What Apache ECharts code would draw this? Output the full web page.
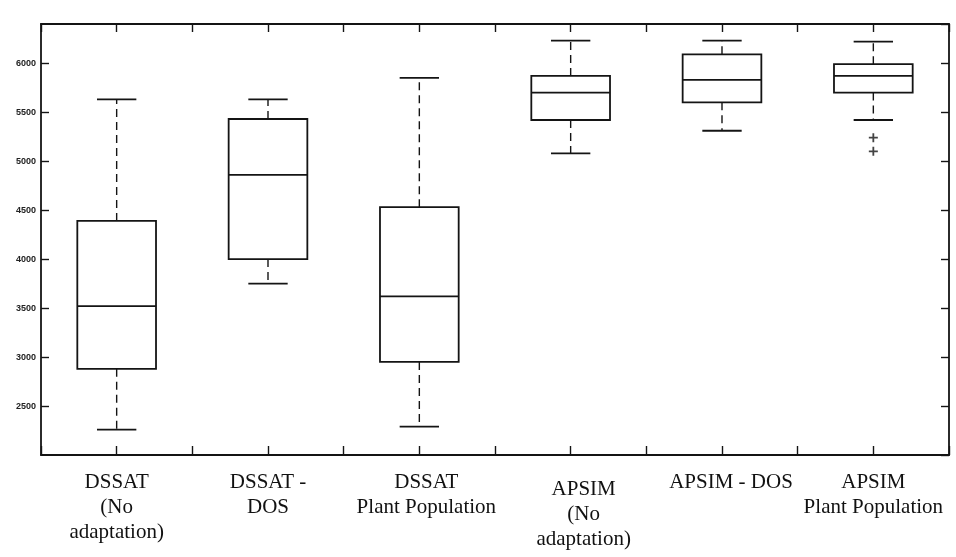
<!DOCTYPE html>
<html><head><meta charset="utf-8">
<script src="https://cdn.jsdelivr.net/npm/echarts@6/dist/echarts.min.js"></script>
<style>html,body{margin:0;padding:0;background:#fff}#c{width:956px;height:557px}</style>
</head><body><div id="c"></div>
<script>
// ---- data ----
const categories = ['DSSAT\n(No\nadaptation)', 'DSSAT -\nDOS', 'DSSAT\nPlant Population', 'APSIM\n(No\nadaptation)', 'APSIM - DOS', 'APSIM\nPlant Population'];
const whiskerLow  = [2260, 3750, 2290, 5080, 5310, 5420];
const quartile1   = [2880, 4000, 2950, 5420, 5600, 5700];
const medians     = [3520, 4860, 3620, 5700, 5830, 5870];
const quartile3   = [4390, 5430, 4530, 5870, 6090, 5990];
const whiskerHigh = [5630, 5630, 5850, 6230, 6230, 6220];
const outlierCategory = [5, 5];
const outlierValues   = [5240, 5100];
const yTickLabels = [2500, 3000, 3500, 4000, 4500, 5000, 5500, 6000];

// ---- chart ----
const chart = echarts.init(document.getElementById('c'), null, {renderer: 'canvas'});
const boxData = categories.map((c, i) => [i, whiskerLow[i], quartile1[i], medians[i], quartile3[i], whiskerHigh[i]]);
const outlierData = outlierCategory.map((c, i) => [c, outlierValues[i]]);
const labelShift = [[0,0,0,0],[0,0,0,0],[0,0,0,14],[7,0,0,26],[0,0,0,18],[0,0,0,0]];
const catItems = categories.map((c, i) => ({value: c, textStyle: {padding: labelShift[i]}}));

const ink = '#141414';
function renderBox(params, api) {
  const i = api.value(0);
  const lo = api.coord([i, api.value(1)]);
  const b1 = api.coord([i, api.value(2)]);
  const md = api.coord([i, api.value(3)]);
  const b3 = api.coord([i, api.value(4)]);
  const hi = api.coord([i, api.value(5)]);
  const band = api.size([1, 0])[0];
  const hw = band * 0.26, cw = band * 0.13;
  const x = md[0];
  const solid = {stroke: ink, lineWidth: 1.8, fill: null};
  const dashed = {stroke: ink, lineWidth: 1.4, lineDash: [8, 5], fill: null};
  return {type: 'group', children: [
    {type: 'rect', shape: {x: x - hw, y: b3[1], width: 2 * hw, height: b1[1] - b3[1]}, style: {stroke: ink, lineWidth: 1.8, fill: 'none'}},
    {type: 'line', shape: {x1: x - hw, y1: md[1], x2: x + hw, y2: md[1]}, style: solid},
    {type: 'line', shape: {x1: x, y1: b3[1], x2: x, y2: hi[1]}, style: dashed},
    {type: 'line', shape: {x1: x, y1: b1[1], x2: x, y2: lo[1]}, style: dashed},
    {type: 'line', shape: {x1: x - cw, y1: hi[1], x2: x + cw, y2: hi[1]}, style: solid},
    {type: 'line', shape: {x1: x - cw, y1: lo[1], x2: x + cw, y2: lo[1]}, style: solid}
  ]};
}

const gridBox = {left: 41, right: 7, top: 24, bottom: 102};
const option = {
  backgroundColor: '#ffffff',
  animation: false,
  grid: [Object.assign({}, gridBox), Object.assign({}, gridBox)],
  xAxis: [
    {type: 'category', gridIndex: 0, position: 'bottom', data: catItems, boundaryGap: true,
     axisLine: {show: true, lineStyle: {color: ink, width: 1.8}},
     axisTick: {show: false},
     axisLabel: {interval: 0, margin: 15, fontFamily: 'Liberation Serif', fontSize: 21, lineHeight: 25, color: '#111'},
     splitLine: {show: false}},
    {type: 'value', gridIndex: 0, position: 'top', min: 0, max: 12, interval: 1,
     axisLine: {show: true, lineStyle: {color: ink, width: 1.8}},
     axisTick: {show: true, inside: true, length: 8, lineStyle: {color: ink, width: 1.4}},
     axisLabel: {show: false}, splitLine: {show: false}},
    {type: 'value', gridIndex: 1, position: 'bottom', min: 0, max: 12, interval: 1,
     axisLine: {show: false},
     axisTick: {show: true, inside: true, length: 9, lineStyle: {color: ink, width: 1.4}},
     axisLabel: {show: false}, splitLine: {show: false}}
  ],
  yAxis: [
    {type: 'value', gridIndex: 0, position: 'left', min: 2000, max: 6400, interval: 500,
     axisLine: {show: true, lineStyle: {color: ink, width: 1.8}},
     axisTick: {show: true, inside: true, length: 8, lineStyle: {color: ink, width: 1.4}},
     axisLabel: {margin: 5, fontFamily: 'Liberation Sans Narrow, Liberation Sans', fontWeight: 'bold', fontSize: 9, color: '#222',
       showMinLabel: false, showMaxLabel: false,
       formatter: v => yTickLabels.indexOf(v) >= 0 ? String(v) : ''},
     splitLine: {show: false}},
    {type: 'value', gridIndex: 0, position: 'right', min: 2000, max: 6400, interval: 500,
     axisLine: {show: true, lineStyle: {color: ink, width: 1.8}},
     axisTick: {show: true, inside: true, length: 8, lineStyle: {color: ink, width: 1.4}},
     axisLabel: {show: false}, splitLine: {show: false}},
    {type: 'value', gridIndex: 1, min: 2000, max: 6400, show: false}
  ],
  series: [
    {type: 'custom', xAxisIndex: 0, yAxisIndex: 0, renderItem: renderBox, data: boxData,
     encode: {x: 0, y: [1, 2, 3, 4, 5]}, silent: true},
    {type: 'scatter', xAxisIndex: 0, yAxisIndex: 0, data: outlierData,
     symbol: 'path://M4,0h2v4h4v2h-4v4h-2v-4h-4v-2h4z', symbolSize: 9,
     itemStyle: {color: ink}, silent: true}
  ]
};
chart.setOption(option);
</script>
</body></html>
